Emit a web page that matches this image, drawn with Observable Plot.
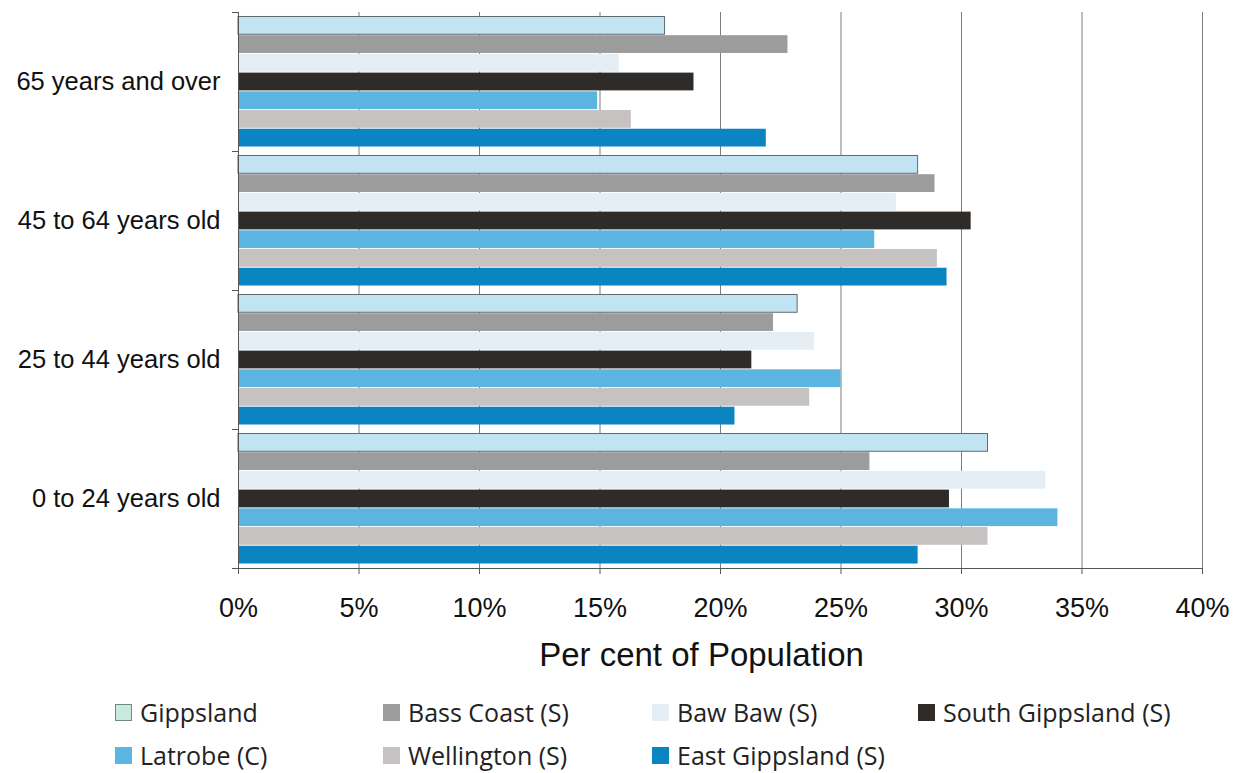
<!DOCTYPE html>
<html>
<head>
<meta charset="utf-8">
<script src="https://cdn.jsdelivr.net/npm/d3@7"></script>
<script src="https://cdn.jsdelivr.net/npm/@observablehq/plot@0.6"></script>
<style>
  body { margin: 0; background: #fff; font-family: "Liberation Sans", Arial, sans-serif; }
  #wrap { position: relative; width: 1253px; height: 773px; overflow: hidden; }
  .leg { position: absolute; font-family: "Open Sans", sans-serif; font-size: 25px; line-height: 30px; color: #222; white-space: nowrap; display: flex; align-items: center; }
  .sw { width: 17px; height: 17px; margin-right: 8px; box-sizing: border-box; }
</style>
</head>
<body>
<div id="wrap"></div>
<script>
// Age groups (top to bottom)
const ages = ["65 years and over", "45 to 64 years old", "25 to 44 years old", "0 to 24 years old"];
// Regions (series, top to bottom within a group)
const regions = ["Gippsland", "Bass Coast (S)", "Baw Baw (S)", "South Gippsland (S)", "Latrobe (C)", "Wellington (S)", "East Gippsland (S)"];
const colors = ["#c2e4f2", "#9c9c9c", "#e5eef5", "#2e2b29", "#5cb5e0", "#c6c2c2", "#0b85c1"];
// Per cent of population, in the order of ages
const gippsland      = [17.7, 28.2, 23.2, 31.1];
const bassCoast      = [22.8, 28.9, 22.2, 26.2];
const bawBaw         = [15.8, 27.3, 23.9, 33.5];
const southGippsland = [18.9, 30.4, 21.3, 29.5];
const latrobe        = [14.9, 26.4, 25.0, 34.0];
const wellington     = [16.3, 29.0, 23.7, 31.1];
const eastGippsland  = [21.9, 29.4, 20.6, 28.2];
const xTicks = [0, 5, 10, 15, 20, 25, 30, 35, 40];

const series = [gippsland, bassCoast, bawBaw, southGippsland, latrobe, wellington, eastGippsland];
const data = [];
ages.forEach((a, i) => regions.forEach((r, j) => data.push({age: a, region: r, value: series[j][i]})));

const W = 1253, ML = 238, MR = 51;
const chart = Plot.plot({
  width: W,
  height: 676,
  marginLeft: ML,
  marginRight: MR,
  marginTop: 12,
  marginBottom: 108,
  style: {fontFamily: "'Liberation Sans', Arial, sans-serif", background: "#fff"},
  x: {domain: [0, 40]},
  y: {domain: regions, paddingInner: 0.05, paddingOuter: 0.24, round: false, axis: null},
  fy: {domain: ages, padding: 0, round: false},
  color: {domain: regions, range: colors},
  marks: [
    Plot.ruleX(xTicks.slice(1), {stroke: "#7d7d7d", strokeWidth: 1}),
    Plot.barX(data, {x: "value", y: "region", fy: "age", fill: "region",
      stroke: d => d.region === "Gippsland" ? "#5f6a6e" : "none", strokeWidth: 1}),
    Plot.ruleX([0], {stroke: "#555", strokeWidth: 1}),
    // small category-boundary ticks on the left axis
    Plot.frame({anchor: "top", stroke: "#555", insetLeft: -6, insetRight: W - ML - MR}),
    Plot.frame({anchor: "bottom", stroke: "#555", insetLeft: -6, insetRight: W - ML - MR, facetAnchor: "bottom"}),
    Plot.frame({anchor: "bottom", stroke: "#555", facetAnchor: "bottom"}),
    Plot.axisX({ticks: xTicks, tickFormat: d => d + "%", tickSize: 6, tickPadding: 23,
      fontSize: 27, fill: "#111", stroke: "#555", label: "Per cent of Population",
      labelAnchor: "center", labelArrow: "none", labelOffset: 97}),
    Plot.axisFy({anchor: "left", tickSize: 0, tickPadding: 18, fontSize: 25.5, fill: "#111", label: null})
  ]
});

const wrap = document.getElementById("wrap");
wrap.appendChild(chart);
chart.style.position = "absolute";
chart.style.left = "0px";
chart.style.top = "0px";
chart.querySelectorAll("text").forEach(t => {
  if (t.textContent === "Per cent of Population") {
    t.setAttribute("font-size", "33");
    t.setAttribute("dx", "-19");
  }
});

// Legend
const legendPos = [[115, 697], [383, 697], [652, 697], [918, 697], [115, 740], [383, 740], [652, 740]];
regions.forEach((r, i) => {
  const d = document.createElement("div");
  d.className = "leg";
  d.style.left = legendPos[i][0] + "px";
  d.style.top = legendPos[i][1] + "px";
  const s = document.createElement("div");
  s.className = "sw";
  s.style.background = colors[i];
  if (i === 0) { s.style.border = "1px solid #6f8a80"; s.style.background = "#c8eadf"; }
  const t = document.createElement("span");
  t.textContent = r;
  d.appendChild(s); d.appendChild(t);
  wrap.appendChild(d);
});
</script>
</body>
</html>
